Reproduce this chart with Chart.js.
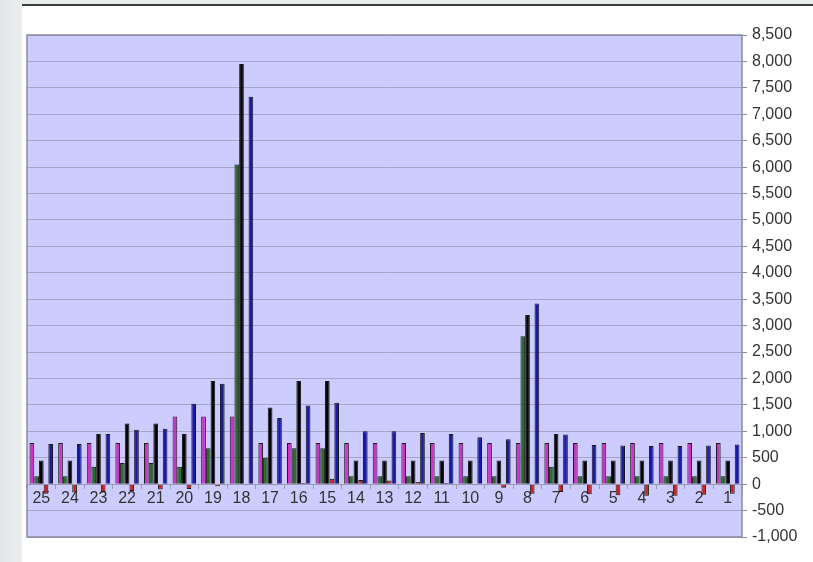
<!DOCTYPE html>
<html>
<head>
<meta charset="utf-8">
<script src="https://cdn.jsdelivr.net/npm/chart.js@4/dist/chart.umd.min.js"></script>
<style>
  html, body { margin: 0; padding: 0; background: #fff; }
  #wrap { position: relative; width: 813px; height: 562px; overflow: hidden; }
  #side { position: absolute; left: 0; top: 0; width: 22px; height: 562px; background: linear-gradient(to right, #e4e7e7, #eaeded); }
  #topband { position: absolute; left: 22px; top: 0; width: 791px; height: 4px; background: #e8ebeb; }
  #topline { position: absolute; left: 22px; top: 4px; width: 791px; height: 2px; background: #3c3c3c; }
  canvas { position: absolute; left: 0; top: 0; }
</style>
</head>
<body>
<div id="wrap">
  <div id="side"></div>
  <div id="topband"></div>
  <div id="topline"></div>
  <canvas id="myBarChart" width="813" height="562"></canvas>
</div>
<script>
var labels = ['25', '24', '23', '22', '21', '20', '19', '18', '17', '16', '15', '14', '13',
              '12', '11', '10', '9', '8', '7', '6', '5', '4', '3', '2', '1'];
var magentaValues = [780, 780, 780, 780, 780, 1280, 1280, 1280, 780, 780, 780, 780, 780,
                     780, 780, 780, 780, 780, 780, 780, 780, 780, 780, 780, 780];
var greenValues = [150, 150, 330, 400, 400, 330, 680, 6050, 500, 680, 680, 150, 150,
                   150, 150, 150, 150, 2800, 330, 150, 150, 150, 150, 150, 150];
var blackValues = [450, 450, 950, 1150, 1150, 950, 1950, 7950, 1450, 1950, 1950, 450, 450,
                   450, 450, 450, 450, 3200, 950, 450, 450, 450, 450, 450, 450];
var redValues = [-180, -160, -150, -130, -100, -90, -40, -20, -20, 20, 100, 80, 70,
                 40, 20, -20, -70, -180, -150, -190, -210, -220, -220, -200, -180];
var blueValues = [760, 760, 950, 1030, 1050, 1520, 1900, 7330, 1250, 1490, 1540, 1000, 1000,
                  970, 950, 890, 850, 3420, 940, 740, 730, 720, 720, 730, 750];
var yMin = -1000, yMax = 8500, yStep = 500;

var plotBackground = {
    id: 'plotBackground',
    beforeDraw: function (chart) {
        var a = chart.chartArea, c = chart.ctx;
        c.save();
        c.fillStyle = '#ccccff';
        c.fillRect(a.left, a.top, a.right - a.left, a.bottom - a.top);
        c.restore();
    },
    afterDraw: function (chart) {
        var a = chart.chartArea, c = chart.ctx;
        c.save();
        c.strokeStyle = '#8a8a9a';
        c.lineWidth = 1.5;
        c.strokeRect(a.left, a.top, a.right - a.left, a.bottom - a.top);
        c.restore();
    }
};

function bar(label, data, color) {
    return {
        label: label,
        data: data,
        backgroundColor: color,
        borderColor: '#1a1a1a',
        borderWidth: 1,
        barPercentage: 1.0,
        categoryPercentage: 0.82
    };
}

var ctx = document.getElementById('myBarChart').getContext('2d');
var myBarChart = new Chart(ctx, {
    type: 'bar',
    data: {
        labels: labels,
        datasets: [
            bar('magenta', magentaValues, '#cc33cc'),
            bar('green', greenValues, '#2a6a2a'),
            bar('black', blackValues, '#050505'),
            bar('red', redValues, '#cc2222'),
            bar('blue', blueValues, '#1a1aa8')
        ]
    },
    plugins: [plotBackground],
    options: {
        animation: false,
        responsive: false,
        layout: { padding: { left: 27, top: 35, bottom: 25, right: 0 } },
        plugins: { legend: { display: false }, tooltip: { enabled: false } },
        scales: {
            x: {
                position: { y: 0 },
                grid: { drawOnChartArea: false, drawTicks: true, tickLength: 4, color: '#9a9ab0', offset: true },
                border: { display: true, color: '#9a9ab0' },
                ticks: {
                    color: '#333',
                    padding: 1,
                    maxRotation: 0,
                    autoSkip: false,
                    font: { family: 'Liberation Sans', size: 16 }
                }
            },
            y: {
                position: 'right',
                min: yMin,
                max: yMax,
                afterFit: function (s) { s.width = 71; },
                grid: { color: '#a6a6c8', tickLength: 5, tickColor: '#8a8a9a' },
                border: { display: false },
                ticks: {
                    stepSize: yStep,
                    color: '#333',
                    padding: 5,
                    font: { family: 'Liberation Sans', size: 16 },
                    callback: function (v) { return v.toLocaleString('en-US'); }
                }
            }
        }
    }
});
</script>
</body>
</html>
